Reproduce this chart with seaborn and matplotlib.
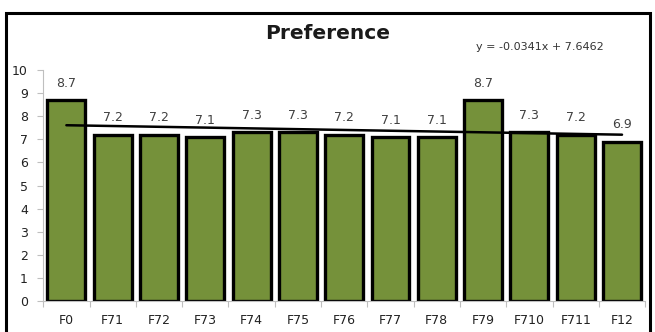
import matplotlib
matplotlib.use("Agg")
import matplotlib.pyplot as plt
from matplotlib.patches import Rectangle
import numpy as np
import pandas as pd
import seaborn as sns

categories = ["F0", "F71", "F72", "F73", "F74", "F75", "F76", "F77", "F78",
              "F79", "F710", "F711", "F12"]
preference = [8.7, 7.2, 7.2, 7.1, 7.3, 7.3, 7.2, 7.1, 7.1, 8.7, 7.3, 7.2, 6.9]
y_ticks = [0, 1, 2, 3, 4, 5, 6, 7, 8, 9, 10]
trend_slope = -0.0341
trend_intercept = 7.6462

df = pd.DataFrame({"produit": categories, "preference": preference})

sns.set_style("white")
plt.rcParams["font.family"] = ["DejaVu Sans"]

fig = plt.figure(figsize=(6.55, 3.32), dpi=100)
ax = fig.add_axes([0.066, 0.093, 0.919, 0.696])

sns.barplot(data=df, x="produit", y="preference", color="#75913A",
            saturation=1, edgecolor="black", linewidth=2.4, width=0.82, ax=ax)

# étiquettes de valeur
for i, v in enumerate(preference):
    ax.text(i, v + 0.45, f"{v:.1f}", ha="center", va="bottom",
            fontsize=9, color="#404040")

# courbe de tendance linéaire (x Excel = 1..n)
xs = np.arange(len(categories))
ax.plot(xs, trend_slope * (xs + 1) + trend_intercept, color="black", lw=1.8)

ax.set_ylim(0, 10)
ax.set_xlim(-0.5, len(categories) - 0.5)
ax.set_yticks(y_ticks)
ax.set_xlabel("")
ax.set_ylabel("")
ax.tick_params(axis="y", labelsize=9, colors="#BFBFBF", labelcolor="#222222",
               length=4, width=0.8, left=True, pad=7)
ax.tick_params(axis="x", which="major", labelsize=9, labelcolor="#222222",
               length=0, pad=9)
ax.set_xticks(np.arange(len(categories) + 1) - 0.5, minor=True)
ax.tick_params(axis="x", which="minor", length=4, width=0.8,
               colors="#BFBFBF", bottom=True)
for side in ["top", "right"]:
    ax.spines[side].set_visible(False)
for side in ["left", "bottom"]:
    ax.spines[side].set_color("#BFBFBF")
    ax.spines[side].set_linewidth(0.8)

fig.text(0.5, 0.9, "Preference", ha="center", va="center",
         fontsize=14.5, fontweight="bold", color="#1a1a1a")
fig.text(0.825, 0.858, f"y = {trend_slope}x + {trend_intercept}",
         ha="center", va="center", fontsize=8, color="#333333")

# cadre noir autour du graphique
frame = Rectangle((0.009, -0.05), 0.983, 1.011, transform=fig.transFigure,
                  fill=False, edgecolor="black", linewidth=2.2, clip_on=False)
fig.patches.append(frame)

fig.savefig("out.png", dpi=100)
